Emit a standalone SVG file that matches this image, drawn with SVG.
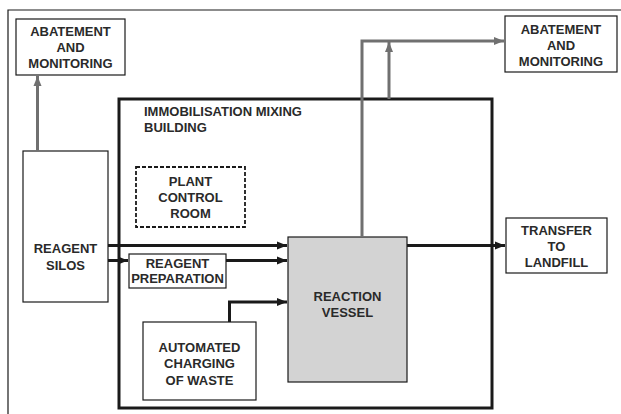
<svg xmlns="http://www.w3.org/2000/svg" width="621" height="414" viewBox="0 0 621 414">
<style>
.box{fill:#fff;stroke:#1a1a1a;stroke-width:1.2}
.t{font-family:"Liberation Sans",Arial,sans-serif;font-weight:bold;font-size:13px;fill:#2a2a2a;text-anchor:middle}
.tl{text-anchor:start}
.blk{stroke:#1a1a1a;stroke-width:3;fill:none}
.gry{stroke:#707070;stroke-width:3;fill:none}
</style>
<defs>
<marker id="ab" markerUnits="userSpaceOnUse" markerWidth="10" markerHeight="10" viewBox="0 0 10 10" refX="10" refY="5" orient="auto"><path d="M0,1 L10,5 L0,9 Z" fill="#1a1a1a"/></marker>
<marker id="ag" markerUnits="userSpaceOnUse" markerWidth="10" markerHeight="10" viewBox="0 0 10 10" refX="10" refY="5" orient="auto"><path d="M0,1 L10,5 L0,9 Z" fill="#707070"/></marker>
</defs>
<rect width="621" height="414" fill="#fff"/>
<g id="frame"><path d="M8,414 V10 H621" fill="none" stroke="#1a1a1a" stroke-width="1.2"/></g>
<g id="building"><rect x="119" y="99" width="373" height="309" fill="none" stroke="#1a1a1a" stroke-width="3"/>
<text class="t tl" x="144" y="116">IMMOBILISATION MIXING</text><text class="t tl" x="144" y="132">BUILDING</text></g>
<g id="abatement-left"><rect class="box" x="16" y="19" width="109" height="56"/>
<text class="t" x="70.5" y="36">ABATEMENT</text><text class="t" x="70.5" y="52">AND</text><text class="t" x="70.5" y="68">MONITORING</text></g>
<g id="abatement-right"><rect class="box" x="505" y="16" width="112" height="56"/>
<text class="t" x="561" y="34">ABATEMENT</text><text class="t" x="561" y="50">AND</text><text class="t" x="561" y="66">MONITORING</text></g>
<g id="reagent-silos"><rect class="box" x="23" y="151" width="85" height="151"/>
<text class="t" x="65.5" y="253">REAGENT</text><text class="t" x="65.5" y="270">SILOS</text></g>
<g id="plant-control"><rect x="136" y="167" width="109" height="60" fill="#fff" stroke="#1a1a1a" stroke-width="1.8" stroke-dasharray="4,2"/>
<text class="t" x="190.5" y="186">PLANT</text><text class="t" x="190.5" y="202">CONTROL</text><text class="t" x="190.5" y="218">ROOM</text></g>
<g id="reagent-prep"><rect class="box" x="129" y="254" width="97" height="34"/>
<text class="t" x="177.5" y="268">REAGENT</text><text class="t" x="177.5" y="283">PREPARATION</text></g>
<g id="reaction-vessel"><rect x="288" y="237" width="119" height="145" fill="#d3d3d3" stroke="#1a1a1a" stroke-width="1.2"/>
<text class="t" x="347.5" y="301">REACTION</text><text class="t" x="347.5" y="317">VESSEL</text></g>
<g id="auto-charging"><rect class="box" x="143" y="322" width="113" height="78"/>
<text class="t" x="199.5" y="352">AUTOMATED</text><text class="t" x="199.5" y="368">CHARGING</text><text class="t" x="199.5" y="385">OF WASTE</text></g>
<g id="transfer"><rect class="box" x="506" y="218" width="101" height="55"/>
<text class="t" x="556.5" y="235">TRANSFER</text><text class="t" x="556.5" y="251">TO</text><text class="t" x="556.5" y="267">LANDFILL</text></g>
<g id="connectors">
<path class="gry" d="M37.5,151 V76" marker-end="url(#ag)"/>
<path class="gry" d="M362,237 V41 H504" marker-end="url(#ag)"/>
<path class="gry" d="M389,99 V42" marker-end="url(#ag)"/>
<path class="blk" d="M108,245.5 H287" marker-end="url(#ab)"/>
<path class="blk" d="M108,260.5 H128" marker-end="url(#ab)"/>
<path class="blk" d="M226,260.5 H287" marker-end="url(#ab)"/>
<path class="blk" d="M229.5,322 V302 H287" marker-end="url(#ab)"/>
<path class="blk" d="M407,245.5 H505" marker-end="url(#ab)"/>
</g>
</svg>
